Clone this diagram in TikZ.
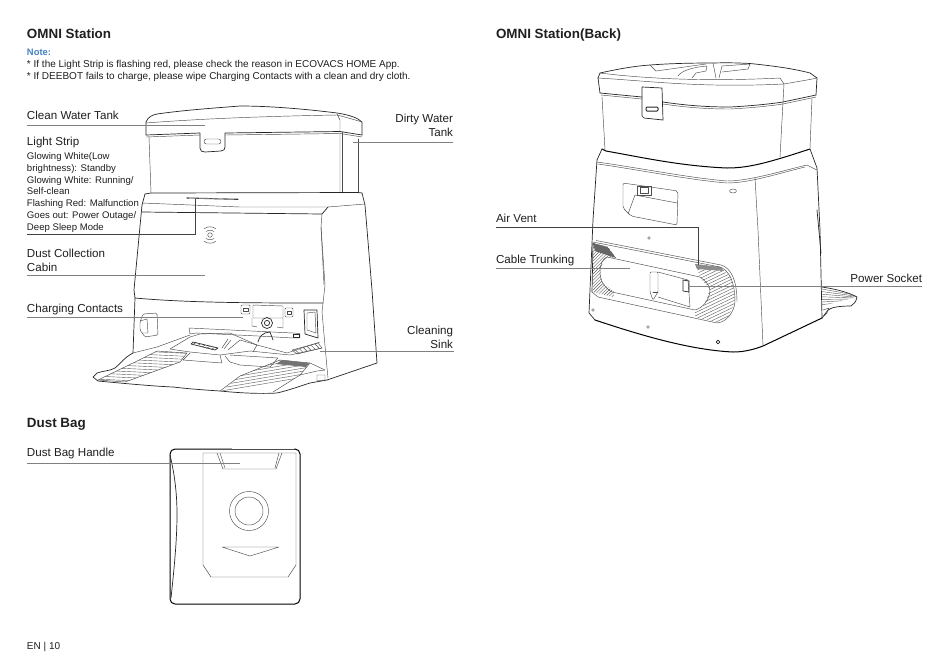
\documentclass[tikz,border=0pt]{standalone}
\usepackage{fontspec}
\setmainfont{Liberation Sans}
\begin{document}
\begin{tikzpicture}[x=1pt,y=-1pt,
  every node/.style={inner sep=0pt,outer sep=0pt,text=black!88},
  ttl/.style={anchor=base west,font=\fontsize{13.4}{15}\selectfont\bfseries},
  lbl/.style={anchor=base west,font=\fontsize{11.6}{14}\selectfont},
  lblr/.style={anchor=base east,font=\fontsize{11.6}{14}\selectfont},
  small/.style={anchor=base west,font=\fontsize{9.6}{11}\selectfont},
  note/.style={anchor=base west,font=\fontsize{10}{11}\selectfont},
  ink/.style={draw=black!85,line width=0.7pt,line join=round,line cap=round},
  thin ink/.style={draw=black!70,line width=0.45pt,line join=round,line cap=round},
  heavy/.style={draw=black,line width=1pt,line join=round,line cap=round},
  leader/.style={draw=black!50,line width=0.55pt},
  hatch/.style={draw=black!65,line width=0.4pt}]
\useasboundingbox (0,0) rectangle (950,657);
\fill[white] (0,0) rectangle (950,657);

% ---------- texts ----------
\node[ttl] (t1) at (27,38) {OMNI Station};
\node[note,font=\fontsize{9.4}{11}\selectfont\bfseries,text={rgb,255:red,70;green,130;blue,190}] (n0) at (27,55) {Note:};
\node[note] (n1) at (27,67) {* If the Light Strip is flashing red, please check the reason in ECOVACS HOME App.};
\node[note] (n2) at (27,79) {* If DEEBOT fails to charge, please wipe Charging Contacts with a clean and dry cloth.};
\node[ttl] (t2) at (496,38) {OMNI Station(Back)};
\node[ttl] (t3) at (27,427) {Dust Bag};
\node[lbl] (a1) at (27,119) {Clean Water Tank};
\node[lbl] (a2) at (27,145) {Light Strip};
\node[small] (s1) at (27,159) {Glowing White(Low};
\node[small] (s2) at (27,171) {brightness): Standby};
\node[small] (s3) at (27,183) {Glowing White: Running/};
\node[small] (s4) at (27,194) {Self-clean};
\node[small] (s5) at (27,206) {Flashing Red: Malfunction};
\node[small] (s6) at (27,218) {Goes out: Power Outage/};
\node[small] (s7) at (27,230) {Deep Sleep Mode};
\node[lbl] (a3) at (27,257) {Dust Collection};
\node[lbl] (a4) at (27,271) {Cabin};
\node[lbl] (a5) at (27,312) {Charging Contacts};
\node[lblr] (b1) at (453,122) {Dirty Water};
\node[lblr] (b2) at (453,136) {Tank};
\node[lblr] (b3) at (453,334) {Cleaning};
\node[lblr] (b4) at (453,348) {Sink};
\node[lbl] (c1) at (496,222) {Air Vent};
\node[lbl] (c2) at (496,263) {Cable Trunking};
\node[lblr] (c3) at (922,282) {Power Socket};
\node[lbl] (d1) at (27,456) {Dust Bag Handle};
\node[anchor=base west,font=\fontsize{10}{12}\selectfont] (pg) at (27,649) {EN | 10};

% ---------- front station ----------
% lid
\draw[ink] (146,135) -- (146,122) .. controls (148,117) and (152,115) .. (157,114)
  .. controls (185,110) and (215,108) .. (240,106) .. controls (270,106) and (305,109) .. (337,113)
  .. controls (350,115) and (358,118) .. (362,122) -- (362,135);
\draw[thin ink] (146,123) .. controls (210,118) and (280,116) .. (337,115) .. controls (345,117) and (352,119) .. (362,122);
\draw[ink] (146,135) -- (200,133) -- (200,148) .. controls (200,151) and (202,152) .. (205,152)
  -- (221,151) .. controls (224,151) and (225,149) .. (225,147) -- (225,133) -- (340,131.5) -- (362,135);
\draw[thin ink] (146,137) -- (200,135);
\draw[thin ink] (225,135) -- (340,133.5) -- (362,137);
\draw[thin ink,rounded corners=2.4pt] (204,139) rectangle (221,144);
\draw[thin ink] (337,114) -- (340,120) -- (340,193);
\draw[thin ink] (342,132) -- (342,193);
\draw[thin ink] (149,137) -- (151,193);
\draw[thin ink] (358,139) -- (358,193);
% base
\draw[ink] (145,194) -- (151,193) -- (358,192.5) -- (362,193);
\draw[ink] (145,194) -- (142,205) -- (134,290) -- (135,298) -- (133,353);
\draw[ink] (362,193) -- (365,205) -- (372,290) -- (377,363) -- (327,380);
\draw[thin ink] (142,203) -- (240,207) -- (328,207) -- (365,204);
\draw[ink] (142,212) -- (322,214) -- (328,207);
\draw[thin ink] (322,214) -- (321,227) -- (325,285) -- (323,303) -- (322,312) -- (327,368) -- (328,378);
\draw[thin ink] (321,227) -- (324,285);
\draw[line width=1.1pt,draw=black!80,line cap=round] (187,198) -- (238,199.3);
\draw[white,line width=0.2pt] (189,198.2) -- (236,199.1);
% wireless icon
\draw[thin ink] (210,235) circle (2.3);
\draw[thin ink] (204,241) .. controls (207,244) and (213,244) .. (216,241);
\draw[thin ink] (204,229) .. controls (207,226) and (213,226) .. (216,229);
\draw[thin ink] (206,231.5) .. controls (208,230) and (212,230) .. (214,231.5);
\draw[thin ink] (206,238.5) .. controls (208,240) and (212,240) .. (214,238.5);
% cabin opening
\draw[ink] (135,298) .. controls (190,303) and (260,303) .. (323,303);
\draw[thin ink,rounded corners=1.5pt] (143,314) -- (157,313) -- (158,335) -- (145,337) -- (140,330) -- (140,322) -- cycle;
\draw[thin ink] (140,321) -- (147,319) -- (148,333) -- (142,333);
\draw[ink] (304,310) -- (317,310) -- (318,338) -- (305,334) -- cycle;
\draw[thin ink] (307,313) -- (315,312) -- (316,333) -- (307,330) -- cycle;
\draw[thin ink,rounded corners=1pt] (241,305) rectangle (250,314);
\draw[thin ink,rounded corners=1pt] (285,308) rectangle (293,317);
\draw[thin ink] (243,308) rectangle (248,311.5);
\draw[thin ink] (287,311) rectangle (291,314.5);
\draw[thin ink] (253,305) -- (283,306) -- (283,318) -- (253,318) -- cycle;
\draw[thin ink] (252,318) -- (252,326) -- (257,327);
\draw[thin ink] (283,318) -- (283,328) -- (277,327);
\draw[ink] (267,323) circle (5.5);
\draw[ink] (267,323) circle (2.6);
% rail
\draw[thin ink] (189,328) -- (293,333) -- (300,333.5) -- (300,338) -- (293,338) -- (258,336) -- (196,333);
\draw[thin ink] (189,328) -- (190,334) -- (196,333);
\draw[ink] (293,334) rectangle (299,337.5);
\draw[ink] (258,342) .. controls (259,337) and (263,332) .. (270,332) -- (273,340);
% floor plate
\draw[thin ink] (170,349) -- (190,337) -- (200,334) -- (230,333) -- (257,345) -- (287,353) -- (320,342);
\draw[thin ink] (170,349) -- (190,352) -- (220,355) -- (250,351) -- (290,355) -- (322,348);
\draw[thin ink] (190,353) -- (183,360) -- (222,363) -- (220,355);
\draw[ink] (193,342) -- (218,348) -- (215,350) -- (191,344) -- cycle;
\draw[thin ink] (222,348) -- (228,339);
\draw[thin ink] (224,349) -- (231,340);
\draw[thin ink] (228,350) -- (240,340) -- (257,345) -- (253,352);
\draw[thin ink] (230,355) -- (278,358) -- (270,367) -- (240,365) -- (230,362) -- (225,356);
\draw[thin ink] (292,350) -- (318,343) -- (322,348) -- (297,354) -- cycle;
\foreach \i in {0,1,2,3,4} \draw[thin ink] ({196+4.5*\i},{342.6+1.3*\i}) -- ({193+4.5*\i},{344.4+1.3*\i});
\foreach \i in {0,...,5} \draw[thin ink] ({295+4*\i},{349.5-1.1*\i}) -- ({299+4*\i},{353.5-1.1*\i});
% tray
\draw[ink] (133,353) .. controls (125,357) and (120,364) .. (115,368) .. controls (110,371) and (102,371) .. (97,373)
  -- (93,377) -- (98,381) .. controls (120,383) and (150,386) .. (173,387) .. controls (190,389) and (205,390) .. (220,391)
  .. controls (240,393) and (260,394) .. (277,393) .. controls (290,390) and (300,386) .. (310,383) -- (327,380);
\draw[thin ink] (133,353) -- (157,347) -- (190,335);
\draw[thin ink] (157,351) -- (187,353) -- (180,362) -- (125,382) -- (98,380) -- (133,363) -- cycle;
\draw[thin ink] (280,360) -- (310,363) -- (325,370);
\draw[thin ink] (280,360) -- (240,376) -- (220,391);
\draw[thin ink] (310,363) -- (300,375) -- (273,392);
\draw[thin ink] (317,375) -- (325,375) -- (325,380) -- (317,381) -- cycle;
\draw[thin ink] (300,375) -- (317,371) -- (325,370);
\begin{scope}
\clip (157,351) -- (187,353) -- (180,362) -- (125,382) -- (98,380) -- (133,363) -- cycle;
\foreach \i in {0,...,10} \draw[hatch] (95,{379-3*\i}) -- (190,{383.5-3*\i});
\end{scope}
\begin{scope}
\clip (280,360) -- (310,363) -- (300,375) -- (273,392) -- (222,391) -- (240,376) -- cycle;
\foreach \i in {0,...,11} \draw[hatch] (215,{392-3*\i}) -- (310,{376-3*\i});
\end{scope}
\fill[black!55] (282,360) -- (309,363) -- (306,367) -- (276,364) -- cycle;

% front leaders
\coordinate (l1) at (205,125); \draw[leader] (27,125) -- (l1);
\coordinate (l2) at (195,199); \draw[leader,draw=black!75] (27,234) -- (195,234) -- (l2);
\coordinate (l3) at (353,142); \draw[leader] (453,142) -- (l3);
\coordinate (l4) at (205,275); \draw[leader] (27,275) -- (l4);
\coordinate (l5) at (243,317); \draw[leader] (27,317) -- (l5);
\coordinate (l6) at (320,351); \draw[leader] (454,351) -- (l6);

% ---------- back station ----------
\draw[ink] (598,78) -- (600,73) .. controls (618,69) and (635,66) .. (650,65)
 .. controls (670,63.5) and (690,63) .. (713,63) .. controls (730,62.5) and (740,63) .. (750,63.5)
 .. controls (775,66) and (795,69) .. (810,73) -- (817,78) -- (816,95);
\draw[ink] (598,78) -- (600,93);
\draw[thin ink] (598,78) .. controls (650,81) and (700,88) .. (784,84) .. controls (795,82) and (808,80) .. (817,78);
\draw[thin ink] (600,73) .. controls (640,78) and (700,82) .. (780,78) -- (784,84) -- (783,102);
\draw[ink] (600,93) -- (642,97);
\draw[ink] (663,102) .. controls (690,106) and (710,107) .. (730,107) .. controls (750,106) and (770,104) .. (783,102) -- (816,95);
\draw[thin ink] (601,95) -- (642,99);
\draw[thin ink] (663,104) .. controls (690,108) and (710,109) .. (730,109) .. controls (750,108) and (770,106) .. (783,104) -- (816,97);
\draw[ink] (642,87) -- (662,88) -- (663,120) -- (644,118) -- (642,116) -- cycle;
\draw[ink,line width=1pt,rounded corners=1pt] (646,107) rectangle (658,111);
% top opening
\draw[thin ink] (650,65) -- (656,71);
\draw[thin ink] (656,71) -- (706,64);
\draw[thin ink] (678,76) .. controls (682,70) and (695,67) .. (707,66) -- (706,71) -- (696,73) -- (692,78);
\draw[thin ink] (713,63) -- (716,78);
\draw[thin ink] (719,78) -- (722,66) -- (750,64) -- (748,69) -- (722,72);
\draw[thin ink] (602,97) -- (605,150);
\draw[thin ink] (812,98) -- (810,148);
\draw[thin ink] (783,102) -- (780,157);
% base
\draw[heavy] (602,149) -- (606,151) .. controls (640,157) and (680,166) .. (727,168)
 .. controls (750,168) and (770,162) .. (810,149);
\draw[ink] (602,149) -- (597,160) -- (593,220) -- (589,313) -- (595,320);
\draw[heavy] (595,320) .. controls (640,335) and (690,350) .. (733,352) .. controls (745,352) and (755,349) .. (763,346) -- (822,318);
\draw[ink] (810,149) -- (817,168) -- (820,230) -- (822,318);
\draw[thin ink] (597,162) .. controls (640,168) and (690,178) .. (727,181) .. controls (750,181) and (785,170) .. (807,165) -- (817,170);
\draw[thin ink] (598,164) .. controls (640,170) and (690,180) .. (727,183) .. controls (750,183) and (780,173) .. (805,167);
\draw[thin ink] (755,178) -- (758,230) -- (763,346);
\draw[ink] (817,210) -- (821,253);
% window
\draw[thin ink,rounded corners=2pt] (623,183) -- (678,191) -- (677,225) -- (631,216) -- (623,208) -- cycle;
\draw[thin ink] (635,195) -- (677,203);
\draw[thin ink] (635,195) -- (628,214);
\draw[thin ink] (637,186) rectangle (651,195);
\draw[thin ink] (640,187) rectangle (648,193);
\draw[thin ink] (733,191) ellipse (3.5 and 2);
% vent
\begin{scope}
\clip (593,243) -- (608,247) -- (616,258) -- (607,257) -- (600,268) -- (602,283) -- (615,292) -- (613,297) -- (593,292) -- cycle;
\foreach \i in {0,...,24} \draw[hatch] (585,{300-3.2*\i+30}) -- (640,{300-3.2*\i-25});
\fill[black!60] (593,243) -- (608,247) -- (616,258) -- (595,251) -- cycle;
\end{scope}
\begin{scope}
\clip (695,264) -- (720,267) -- (732,278) -- (735,302) -- (727,320) -- (717,322) -- (695,317) -- (695,310) -- (703,307) -- (710,290) -- (700,277) -- cycle;
\foreach \i in {-2,...,26} \draw[hatch] (690,{328-3.2*\i}) -- (738,{305-3.2*\i});
\fill[black!45] (695,264) -- (720,267) -- (724,271) -- (697,269) -- cycle;
\end{scope}
\draw[thin ink] (593,242) -- (720,267) .. controls (728,270) and (735,280) .. (735,302)
  .. controls (734,312) and (727,322) .. (717,323) -- (598,297) -- (592,292);
\draw[thin ink] (596,240.5) -- (721,265) .. controls (731,268) and (737,280) .. (737,302);
\draw[thin ink] (607,257) -- (700,277) .. controls (706,281) and (710,286) .. (710,291)
  .. controls (709,300) and (703,308) .. (695,310) -- (612,292) .. controls (605,288) and (600,281) .. (600,272) .. controls (600,264) and (603,258) .. (607,257);
\draw[ink] (593,243) -- (592,292);
% plate
\draw[thin ink,rounded corners=1pt] (650,272) -- (658,272) -- (658,292) -- (653,300) -- (650,292) -- cycle;
\draw[thin ink] (658,272) -- (688,280) -- (690,307) -- (658,297);
\draw[thin ink] (653,292) -- (658,292);
\draw[ink] (683,280) -- (689,281) -- (689,292) -- (683,291) -- cycle;
\foreach \p in {(649,238),(593,310),(648,327)} \draw[thin ink] \p circle (1.4);
\draw[ink] (718,342) circle (1.9);
% back tray
\draw[ink] (822,287) .. controls (835,289) and (848,292) .. (857,297) .. controls (856,302) and (854,304) .. (851,306)
  .. controls (840,306) and (832,307) .. (828,310) -- (822,318);
\begin{scope}
\clip (822,287) .. controls (835,289) and (848,292) .. (856,297) -- (822,306) -- cycle;
\foreach \i in {0,...,6} \draw[hatch] (822,{289+2.6*\i}) -- (855,{296+1*\i-1});
\end{scope}
\draw[thin ink] (823,310) -- (829,308) -- (827,313) -- (824,316);

% back leaders
\coordinate (m1) at (698,265); \draw[leader,draw=black!75] (496,227) -- (698,227) -- (m1);
\coordinate (m2) at (630,268); \draw[leader] (496,268) -- (m2);
\coordinate (m3) at (688,286); \draw[leader] (922,286) -- (m3);

% ---------- dust bag ----------
\draw[heavy,rounded corners=5pt] (170,449) rectangle (300,604);
\draw[white,line width=1.1pt] (232,449) -- (294,449);
\draw[thin ink,line width=0.8pt] (232,449) -- (294,449);
\draw[ink] (170,455) .. controls (176,480) and (177,500) .. (177,515) .. controls (177,540) and (174,570) .. (171,598);
\draw[thin ink] (203,453) -- (296,453) -- (296,565) -- (288,577) -- (211,577) -- (203,565) -- cycle;
\draw[thin ink] (217,453) -- (223,469) -- (276,469) -- (282,453);
\draw[thin ink] (220,453) -- (225,468);
\draw[thin ink] (279,453) -- (275,468);
\draw[thin ink] (249,511) circle (19.5);
\draw[thin ink] (249,511) circle (14);
\draw[thin ink] (222,547) -- (279,547) -- (250,556) -- cycle;
\coordinate (h1) at (240,463); \draw[leader] (27,463) -- (h1);
\end{tikzpicture}
\end{document}
